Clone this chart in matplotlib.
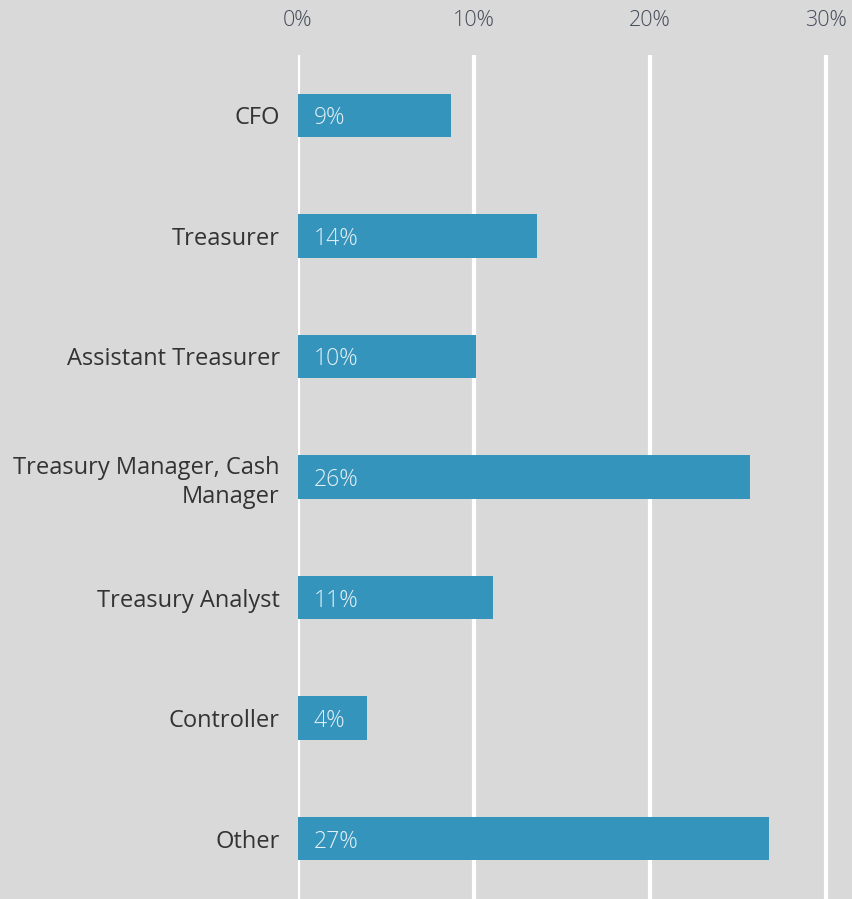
import numpy as np
import matplotlib.pyplot as plt

plt.rcParams['font.family'] = ['Open Sans', 'DejaVu Sans']

# data
# ---------------------------------------------------------------------------------------
roles = ['CFO', 'Treasurer', 'Assistant Treasurer', 'Treasury Manager, Cash\nManager',
         'Treasury Analyst', 'Controller', 'Other']
shares = [8.7, 13.6, 10.1, 25.7, 11.1, 3.9, 26.8]
share_labels = ['9%', '14%', '10%', '26%', '11%', '4%', '27%']
ticks = [0, 10, 20, 30]
tick_labels = ['0%', '10%', '20%', '30%']

bg = '#d9d9d9'
bar_color = '#3594bb'

# draw
# ---------------------------------------------------------------------------------------
fig = plt.figure(figsize=(8.52, 8.99), dpi=100, facecolor=bg)
ax = fig.add_axes([298 / 852, 0, (852 - 298) / 852, (899 - 55) / 899])
ax.set_facecolor(bg)

y = np.arange(len(roles))
ax.barh(y, shares, height=0.36, color=bar_color, zorder=3)
for yi, v, lab in zip(y, shares, share_labels):
    ax.text(0.9, yi, lab, va='center_baseline', ha='left', fontsize=16.5,
            fontweight='light', color='#e4f0f6', zorder=4)

ax.set_xlim(0, 31.5)
ax.set_ylim(6.5, -0.5)
ax.set_yticks(y)
ax.set_yticklabels(roles, fontsize=17, color='#333333', linespacing=1.25,
                   va='center_baseline')
ax.set_xticks(ticks)
ax.set_xticklabels(tick_labels, fontsize=15.5, fontweight='light', color='#444c5a')
ax.xaxis.tick_top()
ax.tick_params(axis='both', length=0)
ax.tick_params(axis='x', pad=17)
ax.tick_params(axis='y', pad=13)
ax.grid(axis='x', color='white', linewidth=3, zorder=1)
ax.grid(axis='y', visible=False)
for s in ax.spines.values():
    s.set_visible(False)

fig.savefig('out.png', dpi=100, facecolor=bg)
